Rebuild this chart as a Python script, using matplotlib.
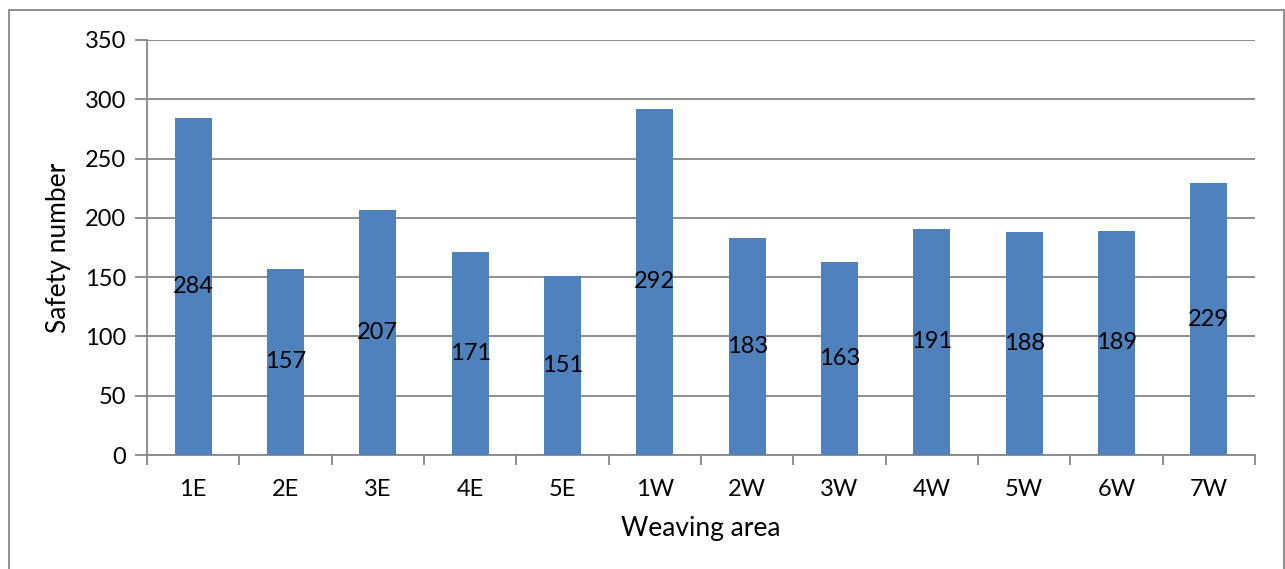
import matplotlib.pyplot as plt
from matplotlib.patches import Rectangle

# Safety number per weaving area
areas = ["1E", "2E", "3E", "4E", "5E", "1W", "2W", "3W", "4W", "5W", "6W", "7W"]
safety = [284, 157, 207, 171, 151, 292, 183, 163, 191, 188, 189, 229]

bar_color = "#4F81BD"
grey = "#868686"

plt.rcParams["font.family"] = ["Lato", "DejaVu Sans"]
plt.rcParams["font.size"] = 17

W, H = 1285, 569
fig = plt.figure(figsize=(W / 100, H / 100), dpi=100)
ax = fig.add_axes([147 / W, 1 - 455 / H, (1255 - 147) / W, (455 - 40) / H])

x = range(len(areas))
bars = ax.bar(x, safety, width=0.4, color=bar_color, zorder=3)
for xi, v in zip(x, safety):
    ax.text(xi, v / 2, str(v), ha="center", va="center", fontsize=17, color="black", zorder=4)

ax.set_xlim(-0.5, len(areas) - 0.5)
ax.set_ylim(0, 350)
ax.set_yticks(range(0, 351, 50))
ax.set_xticks(list(x))
ax.set_xticklabels(areas)
ax.set_xticks([i - 0.5 for i in range(len(areas) + 1)], minor=True)

ax.yaxis.grid(True, color=grey, linewidth=1.3, zorder=0)
ax.set_axisbelow(True)
for s in ["top", "right"]:
    ax.spines[s].set_visible(False)
for s in ["left", "bottom"]:
    ax.spines[s].set_color(grey)
    ax.spines[s].set_linewidth(1.3)

ax.tick_params(axis="y", length=9, width=1.3, color=grey, pad=6, labelsize=17)
ax.tick_params(axis="x", which="major", length=0, pad=17, labelsize=17)
ax.tick_params(axis="x", which="minor", length=7, width=1.3, color=grey)

ax.set_xlabel("Weaving area", fontsize=19, labelpad=12)
ax.set_ylabel("Safety number", fontsize=19, labelpad=10)

# chart border
fig.patches.append(Rectangle((9 / W, -0.05), (1284 - 9) / W, 1 - 10 / H + 0.05,
                             transform=fig.transFigure, fill=False,
                             edgecolor=grey, linewidth=1.3))

fig.savefig("out.png", dpi=100)
